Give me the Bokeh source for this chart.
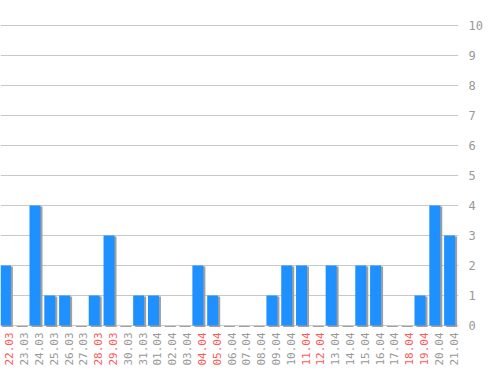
import math
from bokeh.plotting import figure
from bokeh.models import ColumnDataSource, Range1d, LinearAxis, FixedTicker, Grid
from bokeh.core.properties import value
from bokeh.embed import file_html
from bokeh.resources import INLINE

dates = ["22.03", "23.03", "24.03", "25.03", "26.03", "27.03", "28.03", "29.03",
         "30.03", "31.03", "01.04", "02.04", "03.04", "04.04", "05.04", "06.04",
         "07.04", "08.04", "09.04", "10.04", "11.04", "12.04", "13.04", "14.04",
         "15.04", "16.04", "17.04", "18.04", "19.04", "20.04", "21.04"]
counts = [2, 0, 4, 1, 1, 0, 1, 3, 0, 1, 1, 0, 0, 2, 1, 0,
          0, 0, 1, 2, 2, 0, 2, 0, 2, 2, 0, 0, 1, 4, 3]
weekend = ["22.03", "28.03", "29.03", "04.04", "05.04", "11.04", "12.04",
           "18.04", "19.04"]
y_ticks = [0, 1, 2, 3, 4, 5, 6, 7, 8, 9, 10]

idx = list(range(len(dates)))
px_x = 458 / 30.93
px_y = 30.0

src = ColumnDataSource(dict(
    x=idx,
    xs=[i + 2 / px_x for i in idx],
    top=counts,
    stop=[c - 1 / px_y if c > 0 else -0.6 / px_y for c in counts],
    lx=[i + 4 / px_x for i in idx],
    ly=[-7 / px_y] * len(idx),
    label=dates,
    color=["#ff5a5a" if d in weekend else "#999999" for d in dates],
))

p = figure(width=498, height=370, output_backend="svg", toolbar_location=None,
           x_range=Range1d(-0.33, 30.6), y_range=Range1d(-45 / px_y, 325 / px_y),
           min_border_left=0, min_border_top=0, min_border_bottom=0,
           min_border_right=40, outline_line_color=None, background_fill_color="white",
           border_fill_color="white")
p.xaxis.visible = False
p.yaxis.visible = False
p.xgrid.visible = False
p.ygrid.visible = False

yax = LinearAxis(ticker=FixedTicker(ticks=y_ticks))
yax.axis_line_color = None
yax.major_tick_line_color = None
yax.minor_tick_line_color = None
yax.major_label_text_font = "DejaVu Sans Mono"
yax.major_label_text_font_size = "12px"
yax.major_label_text_color = "#999999"
yax.major_label_standoff = 4
p.add_layout(yax, "right")

g = Grid(dimension=1, ticker=FixedTicker(ticks=y_ticks),
         grid_line_color="#c8c8c8", grid_line_width=1)
p.add_layout(g)

p.vbar(x="xs", top="stop", bottom=-1.6 / px_y, width=11 / px_x, source=src,
       fill_color="#a0a0a0", line_color=None)
p.vbar(x="x", top="top", bottom=0, width=11 / px_x, source=src,
       fill_color="#1e90ff", line_color=None)

p.text(x="lx", y="ly", text="label", source=src, angle=math.pi / 2,
       text_align="right", text_baseline="middle", text_color="color",
       text_font=value("DejaVu Sans Mono"), text_font_size="11px")

open("out.html", "w").write(file_html(p, INLINE))
